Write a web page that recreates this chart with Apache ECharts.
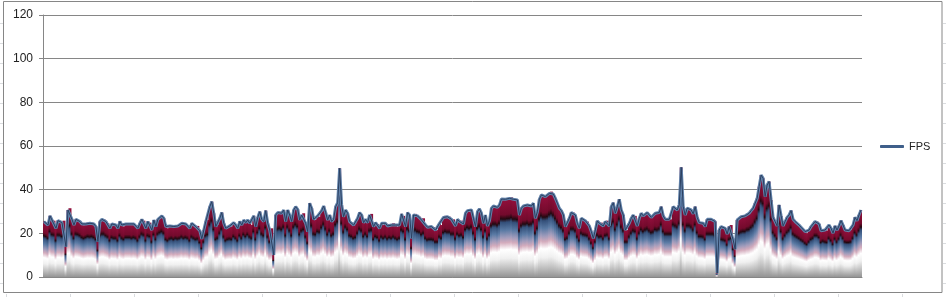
<!DOCTYPE html>
<html>
<head>
<meta charset="utf-8">
<script src="https://cdn.jsdelivr.net/npm/echarts@6/dist/echarts.min.js"></script>
<style>
html,body{margin:0;padding:0;background:#fff;}
#chart{width:946px;height:297px;}
</style>
</head>
<body>
<div id="chart"></div>
<script>
// FPS samples, read left to right from the picture (4 consecutive stretches)
const fpsPart1 = [
25.4, 24.9, 23.8, 28, 26.1, 25.8, 22.3, 25.8, 25.7, 24.9,
25.8, 13.9, 30.7, 31.5, 26.4, 23.8, 26.4, 26.1, 25.4, 24.3,
23.7, 24.3, 24.9, 24.6, 24.9, 24.3, 23.1, 16.2, 25.4, 26.4,
26.4, 25.4, 24.6, 22.3, 24.3, 23.8, 23.8, 22.3, 25.4, 23.8,
23.1, 24.3, 24.3, 24.3, 23.8, 24.3, 23.8, 22.3, 24.6, 26.4,
25.8, 22.3, 25.4, 24.9, 21.5, 26.1, 23.1, 26.4, 27.3, 28,
26.9, 23.1, 22.3, 23.4, 23.8, 23.1, 23.8, 23.4, 23.8, 24.6,
23.8, 24.3, 23.8, 22.3, 24.6, 23.8, 23.1, 23.4, 21.2, 17.5,
21.5, 25.4, 26.1, 32.2, 34.5, 29.2, 23.1, 23.8, 26.9, 29.5,
24.6, 22.3, 23.1, 23.4, 23.1, 24.9, 23.8, 22.3, 25.4, 23.8,
26.1, 24.9, 26.1, 24.6
];
const fpsPart2 = [
23.8, 28, 23.1, 27.3, 29.9, 26.4, 25.4, 30.4, 24.6, 21.5,
22.3, 10.1, 28.4, 29.5, 29.9, 29.2, 30.7, 25.4, 30.7, 28.4,
25.4, 30.7, 32.2, 31, 26.1, 28.4, 29.2, 24.6, 20.8, 33.8,
31.5, 26.4, 26.1, 28, 27.6, 30.4, 32.5, 29.5, 26.1, 28.4,
25.4, 26.4, 32.2, 34, 49.8, 33, 27.6, 30.7, 29.2, 25.4,
24.9, 23.8, 24.3, 26.9, 29.5, 28.4, 24.9, 26.4, 24.9, 28.4,
28.9, 23.1, 24.9, 24.3, 22.3, 24.6, 23.8, 24.6, 23.4, 24.3,
23.8, 24.6, 23.8, 23.1, 23.8, 28.9, 28, 23.1, 29.5, 28.4,
17.7, 28.4, 28.9, 28, 27.6, 26.1, 26.9, 23.8, 22.8, 23.1,
23.1, 22.8, 21.5, 21.5, 24.6, 23.8, 27.3, 28, 27.6, 27.6,
26.4
];
const fpsPart3 = [
26.4, 23.4, 26.4, 25.4, 25.8, 24.3, 29.2, 30.4, 29.9, 30.7,
26.9, 23.1, 29.9, 31.2, 29.2, 24.6, 28.4, 23.4, 25.8, 31.5,
32.5, 32.5, 31.9, 33, 35.7, 35.6, 35.6, 35.9, 36, 36.5,
35.6, 35.6, 35.3, 28.4, 31.5, 32.5, 32.5, 33, 32.2, 32.5,
33.8, 26.9, 29.9, 35.6, 37.6, 36.8, 36.8, 37.1, 38.3, 39.1,
38, 36, 33.8, 31.5, 30.4, 28.4, 23.1, 23.8, 26.9, 29.5,
29.5, 28.4, 24.6, 22.3, 26.9, 26.1, 25.8, 25.4, 23.4, 20.8,
17.7, 21.5, 25.7, 24.6, 24.9, 23.4, 25.4, 25.8, 23.4, 32.2,
34, 29.2, 32.2, 35.6, 30.7, 28.4, 21.5, 21.5, 24.6, 26.9,
28.4, 28, 23.4, 26.9, 29.2, 28, 28.9, 29.5, 28.4, 27.3,
27.6, 29.2
];
const fpsPart4 = [
28.9, 29.5, 32.2, 28, 26.4, 26.4, 26.4, 26.4, 32.2, 31.5,
30.7, 33, 50.2, 32.2, 28.4, 31.5, 31.5, 30.7, 28.9, 32.2,
27.3, 24.9, 24.9, 24.6, 23.1, 26.4, 26.4, 26.4, 26.4, 25.4,
1.7, 21.5, 23.1, 22.8, 22.3, 19.7, 23.1, 23.8, 17, 12.7,
26.1, 26.9, 27.6, 28, 28, 28.9, 29.2, 30.4, 31.5, 33.8,
36, 41.4, 46.7, 45.2, 36.8, 42.1, 43.7, 35.3, 27.3, 25.4,
23.4, 33, 28, 23.4, 25.4, 27.3, 28.4, 30.4, 26.4, 25.4,
24.6, 23.8, 22.8, 22, 20.8, 20, 21.5, 23.1, 23.8, 25.4,
25.4, 24.3, 21.2, 22, 21.5, 21.2, 23.8, 22.3, 20.1, 23.4,
21.5, 23.4, 25.8, 23.8, 21.5, 21.2, 21.2, 21.5, 23.8, 27.3,
25.8, 28.4, 30.7
];
const fps = fpsPart1.concat(fpsPart2, fpsPart3, fpsPart4);
const frames = fps.map((v, i) => String(i + 1));
const seriesName = 'FPS';
const yMin = 0, yMax = 120, yStep = 20;

const axisGray = '#868686';
const sheetGray = '#dadcdf';

const barGradient = new echarts.graphic.LinearGradient(0, 0, 0, 1, [
  { offset: 0.00, color: '#920f3c' },
  { offset: 0.20, color: '#730a2c' },
  { offset: 0.255, color: '#220810' },
  { offset: 0.30, color: '#34507a' },
  { offset: 0.40, color: '#5a7aa4' },
  { offset: 0.49, color: '#9e9bbb' },
  { offset: 0.56, color: '#d4acbd' },
  { offset: 0.65, color: '#ffffff' },
  { offset: 0.76, color: '#f0f0f0' },
  { offset: 1.00, color: '#949494' }
]);

const graphics = [
  { type: 'rect', shape: { x: 3.5, y: 1.5, width: 938.5, height: 291 },
    style: { fill: 'none', stroke: axisGray, lineWidth: 1 }, z: 100 }
];
[6, 70, 134, 198, 262, 326, 390, 454, 518, 582, 646, 710, 774, 838, 902].forEach(x => {
  graphics.push({ type: 'line', shape: { x1: x + 0.5, y1: 294, x2: x + 0.5, y2: 297 },
    style: { stroke: sheetGray, lineWidth: 1 } });
});
for (let y = 23; y < 293; y += 20) {
  graphics.push({ type: 'line', shape: { x1: 943, y1: y + 0.5, x2: 946, y2: y + 0.5 },
    style: { stroke: sheetGray, lineWidth: 1 } });
  graphics.push({ type: 'line', shape: { x1: 0, y1: y + 0.5, x2: 3, y2: y + 0.5 },
    style: { stroke: sheetGray, lineWidth: 1 } });
}

const chart = echarts.init(document.getElementById('chart'), null, { renderer: 'canvas' });
chart.setOption({
  animation: false,
  backgroundColor: '#ffffff',
  grid: { left: 43, right: 84, top: 15, bottom: 20, containLabel: false },
  graphic: graphics,
  legend: {
    left: 880, top: 141,
    padding: 0,
    orient: 'vertical',
    itemWidth: 24, itemHeight: 3,
    textStyle: { fontFamily: 'Liberation Sans', fontSize: 11, color: '#222' },
    data: [{ name: seriesName, icon: 'roundRect', itemStyle: { color: '#3f5f8a' } }]
  },
  xAxis: {
    type: 'category',
    data: frames,
    boundaryGap: true,
    axisLine: { show: true, lineStyle: { color: axisGray } },
    axisTick: { show: false },
    axisLabel: { show: false },
    splitLine: { show: false }
  },
  yAxis: {
    type: 'value',
    min: yMin, max: yMax, interval: yStep,
    axisLine: { show: true, lineStyle: { color: axisGray } },
    axisTick: { show: true, length: 4, lineStyle: { color: axisGray } },
    axisLabel: { margin: 10, fontFamily: 'Liberation Sans', fontSize: 12, color: '#222' },
    splitLine: { show: true, lineStyle: { color: axisGray, width: 1 } }
  },
  series: [
    {
      name: 'fill',
      type: 'bar',
      data: fps,
      barWidth: 3,
      barGap: '0%',
      itemStyle: { color: barGradient },
      silent: true,
      z: 1
    },
    {
      name: seriesName,
      type: 'line',
      data: fps,
      symbol: 'none',
      lineStyle: { color: '#6283ab', width: 3 },
      silent: true,
      z: 3
    },
    {
      name: 'core',
      type: 'line',
      data: fps,
      symbol: 'none',
      lineStyle: { color: '#2b3f60', width: 1 },
      silent: true,
      z: 4
    }
  ]
});
</script>
</body>
</html>
